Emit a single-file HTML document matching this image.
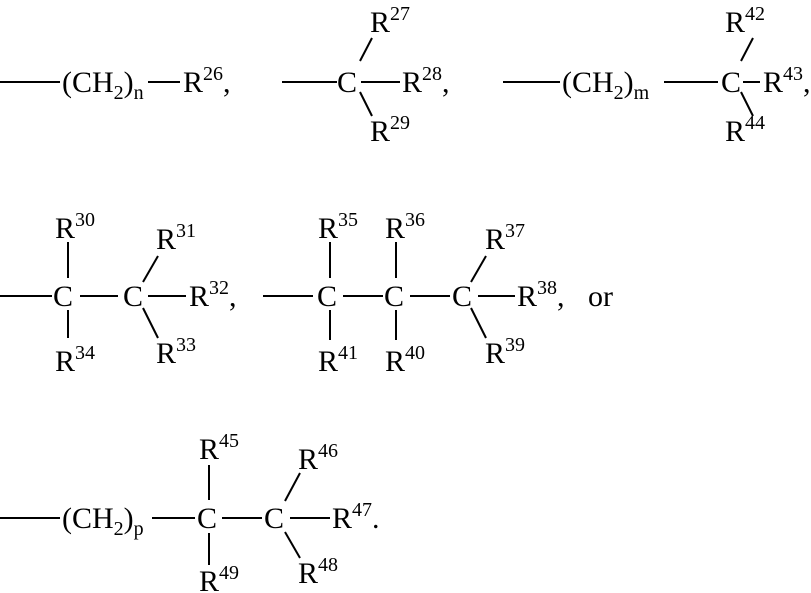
<!DOCTYPE html>
<html><head><style>
html,body{margin:0;padding:0;background:#fff;}
svg{display:block;}
text{font-family:"Liberation Serif",serif;font-size:30px;fill:#000;}
.s{font-size:20px;}
</style></head><body>
<svg width="811" height="593" viewBox="0 0 811 593" xmlns="http://www.w3.org/2000/svg">
<g stroke="#000" stroke-width="2" fill="none">
<line x1="0" y1="82" x2="60" y2="82"/>
<line x1="148" y1="82" x2="180" y2="82"/>
<line x1="282" y1="82" x2="337" y2="82"/>
<line x1="361" y1="82" x2="400" y2="82"/>
<line x1="360" y1="61" x2="372" y2="38"/>
<line x1="360" y1="92" x2="372" y2="116"/>
<line x1="503" y1="82" x2="560" y2="82"/>
<line x1="664" y1="82" x2="718" y2="82"/>
<line x1="743" y1="82" x2="760" y2="82"/>
<line x1="741" y1="61" x2="753" y2="38"/>
<line x1="741" y1="92" x2="753" y2="116"/>
<line x1="0" y1="296" x2="52" y2="296"/>
<line x1="80" y1="296" x2="118" y2="296"/>
<line x1="148" y1="296" x2="186" y2="296"/>
<line x1="68" y1="242" x2="68" y2="278"/>
<line x1="68" y1="310" x2="68" y2="338"/>
<line x1="143" y1="282" x2="158" y2="256"/>
<line x1="143" y1="308" x2="158" y2="338"/>
<line x1="263" y1="296" x2="313" y2="296"/>
<line x1="343" y1="296" x2="383" y2="296"/>
<line x1="410" y1="296" x2="450" y2="296"/>
<line x1="478" y1="296" x2="515" y2="296"/>
<line x1="330" y1="242" x2="330" y2="278"/>
<line x1="330" y1="310" x2="330" y2="340"/>
<line x1="396" y1="242" x2="396" y2="278"/>
<line x1="396" y1="310" x2="396" y2="340"/>
<line x1="471" y1="282" x2="486" y2="256"/>
<line x1="471" y1="308" x2="486" y2="338"/>
<line x1="0" y1="518" x2="60" y2="518"/>
<line x1="152" y1="518" x2="195" y2="518"/>
<line x1="222" y1="518" x2="262" y2="518"/>
<line x1="290" y1="518" x2="330" y2="518"/>
<line x1="209" y1="465" x2="209" y2="500"/>
<line x1="209" y1="533" x2="209" y2="565"/>
<line x1="285" y1="501" x2="300" y2="473"/>
<line x1="285" y1="532" x2="300" y2="558"/>
</g>
<text x="62" y="92">(CH<tspan class="s" dy="7">2</tspan><tspan dy="-7">)</tspan><tspan class="s" dy="7">n</tspan></text>
<text x="183" y="92">R<tspan class="s" dy="-12">26</tspan><tspan dy="12">,</tspan></text>
<text x="337" y="92">C</text>
<text x="402" y="92">R<tspan class="s" dy="-12">28</tspan><tspan dy="12">,</tspan></text>
<text x="370" y="32">R<tspan class="s" dy="-12">27</tspan></text>
<text x="370" y="141">R<tspan class="s" dy="-12">29</tspan></text>
<text x="562" y="92">(CH<tspan class="s" dy="7">2</tspan><tspan dy="-7">)</tspan><tspan class="s" dy="7">m</tspan></text>
<text x="721" y="92">C</text>
<text x="763" y="92">R<tspan class="s" dy="-12">43</tspan><tspan dy="12">,</tspan></text>
<text x="725" y="32">R<tspan class="s" dy="-12">42</tspan></text>
<text x="725" y="141">R<tspan class="s" dy="-12">44</tspan></text>
<text x="53" y="306">C</text>
<text x="123" y="306">C</text>
<text x="189" y="306">R<tspan class="s" dy="-12">32</tspan><tspan dy="12">,</tspan></text>
<text x="55" y="238">R<tspan class="s" dy="-12">30</tspan></text>
<text x="55" y="371">R<tspan class="s" dy="-12">34</tspan></text>
<text x="156" y="249">R<tspan class="s" dy="-12">31</tspan></text>
<text x="156" y="363">R<tspan class="s" dy="-12">33</tspan></text>
<text x="317" y="306">C</text>
<text x="384" y="306">C</text>
<text x="452" y="306">C</text>
<text x="517" y="306">R<tspan class="s" dy="-12">38</tspan><tspan dy="12">,</tspan></text>
<text x="588" y="306">or</text>
<text x="318" y="238">R<tspan class="s" dy="-12">35</tspan></text>
<text x="385" y="238">R<tspan class="s" dy="-12">36</tspan></text>
<text x="485" y="249">R<tspan class="s" dy="-12">37</tspan></text>
<text x="318" y="371">R<tspan class="s" dy="-12">41</tspan></text>
<text x="385" y="371">R<tspan class="s" dy="-12">40</tspan></text>
<text x="485" y="363">R<tspan class="s" dy="-12">39</tspan></text>
<text x="62" y="528">(CH<tspan class="s" dy="7">2</tspan><tspan dy="-7">)</tspan><tspan class="s" dy="7">p</tspan></text>
<text x="197" y="528">C</text>
<text x="264" y="528">C</text>
<text x="332" y="528">R<tspan class="s" dy="-12">47</tspan><tspan dy="12">.</tspan></text>
<text x="199" y="459">R<tspan class="s" dy="-12">45</tspan></text>
<text x="199" y="591">R<tspan class="s" dy="-12">49</tspan></text>
<text x="298" y="469">R<tspan class="s" dy="-12">46</tspan></text>
<text x="298" y="583">R<tspan class="s" dy="-12">48</tspan></text>
</svg>
</body></html>
